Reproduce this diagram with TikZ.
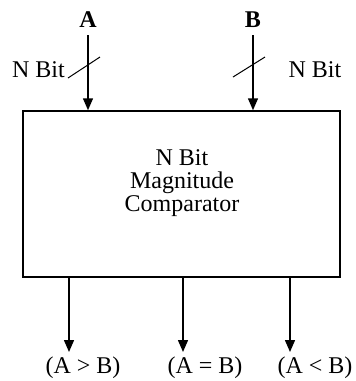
\documentclass[tikz,border=0pt]{standalone}
\usepackage{fontspec}
\setmainfont{Liberation Serif}
\usetikzlibrary{arrows.meta,positioning}

\begin{document}
\begin{tikzpicture}[x=0.5pt,y=-0.5pt,line width=0.75pt,
    >={Triangle[width=5pt,length=6pt]},
    txt/.style={inner sep=0pt,font=\fontsize{12}{11.5}\selectfont},
    block/.style={draw,minimum width=158.5pt,minimum height=83pt,inner sep=0pt}]
  \useasboundingbox (0,0) rectangle (355,381);
  % comparator block
  \node[block] (cmp) at (181.5,194) {};
  \node[txt,align=center] (name) at (182,183) {N Bit\\Magnitude\\Comparator};
  % inputs
  \node[txt,font=\fontsize{12}{12}\bfseries] (A) at (88,20) {A};
  \node[txt,font=\fontsize{12}{12}\bfseries] (B) at (253,20) {B};
  \coordinate (a1) at (88,35);
  \coordinate (b1) at (253,35);
  \draw[->] (a1) -- (a1 |- cmp.north);
  \draw[->] (b1) -- (b1 |- cmp.north);
  \coordinate (sa1) at (68,78); \coordinate (sa2) at (100,57);
  \coordinate (sb1) at (233,77); \coordinate (sb2) at (265,57);
  \draw[line width=0.5pt] (sa1) -- (sa2);
  \draw[line width=0.5pt] (sb1) -- (sb2);
  \node[txt] (na) at (38.5,70) {N Bit};
  \node[txt] (nb) at (315,70) {N Bit};
  % outputs
  \coordinate (o1) at (69,352);
  \coordinate (o2) at (183,352);
  \coordinate (o3) at (290,352);
  \foreach \o in {o1,o2,o3}
    \draw[->] (cmp.south -| \o) -- (\o);
  \node[txt] (gt) at (83,368) {(A > B)};
  \node[txt] (eq) at (205,368) {(A = B)};
  \node[txt] (lt) at (315,368) {(A < B)};
\end{tikzpicture}
\end{document}
